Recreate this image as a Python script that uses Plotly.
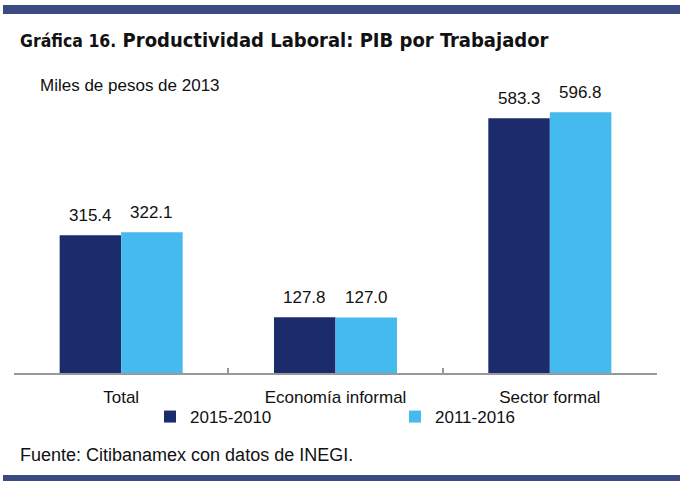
import plotly.graph_objects as go

categories = ["Total", "Economía informal", "Sector formal"]
series_names = ["2015-2010", "2011-2016"]
values_a = [315.4, 127.8, 583.3]
values_b = [322.1, 127.0, 596.8]
colors = ["#1C2B6B", "#44BAEE"]

W, H = 683, 487
L, R, T, B = 14, 657, 100, 373  # plot area in pixels

def px2x(p):
    return (p - L) / (R - L)

def px2y(p):
    return (B - p) / (B - T)

FONT = "Liberation Sans, Arial, sans-serif"
NARROW = "Liberation Sans Narrow, Arial Narrow, DejaVu Sans Condensed, sans-serif"

fig = go.Figure()
for name, vals, col in zip(series_names, [values_a, values_b], colors):
    fig.add_trace(go.Bar(name=name, x=categories, y=vals, marker_color=col,
                         marker_line_width=0, hoverinfo="skip"))

annotations = []
half = (R - L) / 3 * (1 - 0.426) / 4
for vals, shift in [(values_a, -half), (values_b, half)]:
    for c, v in zip(categories, vals):
        annotations.append(dict(x=c, y=v, xref="x", yref="y", text=f"{v:.1f}",
                                showarrow=False, xshift=shift, yshift=20,
                                yanchor="middle",
                                font=dict(family=FONT, size=17, color="#111111")))

annotations.append(dict(x=px2x(18), y=px2y(40), xref="paper", yref="paper",
                        xanchor="left", yanchor="middle", showarrow=False,
                        text="<b><span style='font-size:17.5px'>Gráfica 16.</span> Productividad Laboral: PIB por Trabajador</b>",
                        font=dict(family=NARROW, size=20, color="#111111")))
annotations.append(dict(x=px2x(38), y=px2y(85), xref="paper", yref="paper",
                        xanchor="left", yanchor="middle", showarrow=False,
                        text="Miles de pesos de 2013",
                        font=dict(family=FONT, size=17, color="#111111")))
annotations.append(dict(x=px2x(18), y=px2y(455), xref="paper", yref="paper",
                        xanchor="left", yanchor="middle", showarrow=False,
                        text="Fuente: Citibanamex con datos de INEGI.",
                        font=dict(family=FONT, size=18, color="#111111")))

shapes = [
    dict(type="rect", xref="paper", yref="paper", x0=px2x(3), x1=px2x(680),
         y0=px2y(5), y1=px2y(14), fillcolor="#3B4A80", line_width=0, layer="above"),
    dict(type="rect", xref="paper", yref="paper", x0=px2x(3), x1=px2x(680),
         y0=px2y(475), y1=px2y(481), fillcolor="#3B4A80", line_width=0, layer="above"),
]

fig.update_layout(
    width=W, height=H,
    margin=dict(l=L, r=W - R, t=T, b=H - B, pad=0),
    paper_bgcolor="white", plot_bgcolor="white",
    barmode="group", bargap=0.426, bargroupgap=0,
    font=dict(family=FONT, size=17, color="#111111"),
    hovermode=False,
    xaxis=dict(showline=True, linecolor="#999999", linewidth=2,
               ticks="inside", tickson="boundaries", ticklen=5, tickwidth=2,
               tickcolor="#999999", showgrid=False, ticklabelstandoff=8,
               tickfont=dict(family=FONT, size=17, color="#111111")),
    yaxis=dict(visible=False, range=[0, 625]),
    showlegend=True,
    legend=dict(orientation="h", x=px2x(150), y=px2y(417), xanchor="left",
                yanchor="middle", entrywidth=200, entrywidthmode="pixels",
                itemwidth=30, font=dict(family=FONT, size=17, color="#111111"),
                bgcolor="rgba(0,0,0,0)", tracegroupgap=0),
    annotations=annotations,
    shapes=shapes,
)

fig.write_html("out.html", config={"displayModeBar": False},
               post_script="document.body.style.margin='0';document.body.style.overflow='hidden';")
